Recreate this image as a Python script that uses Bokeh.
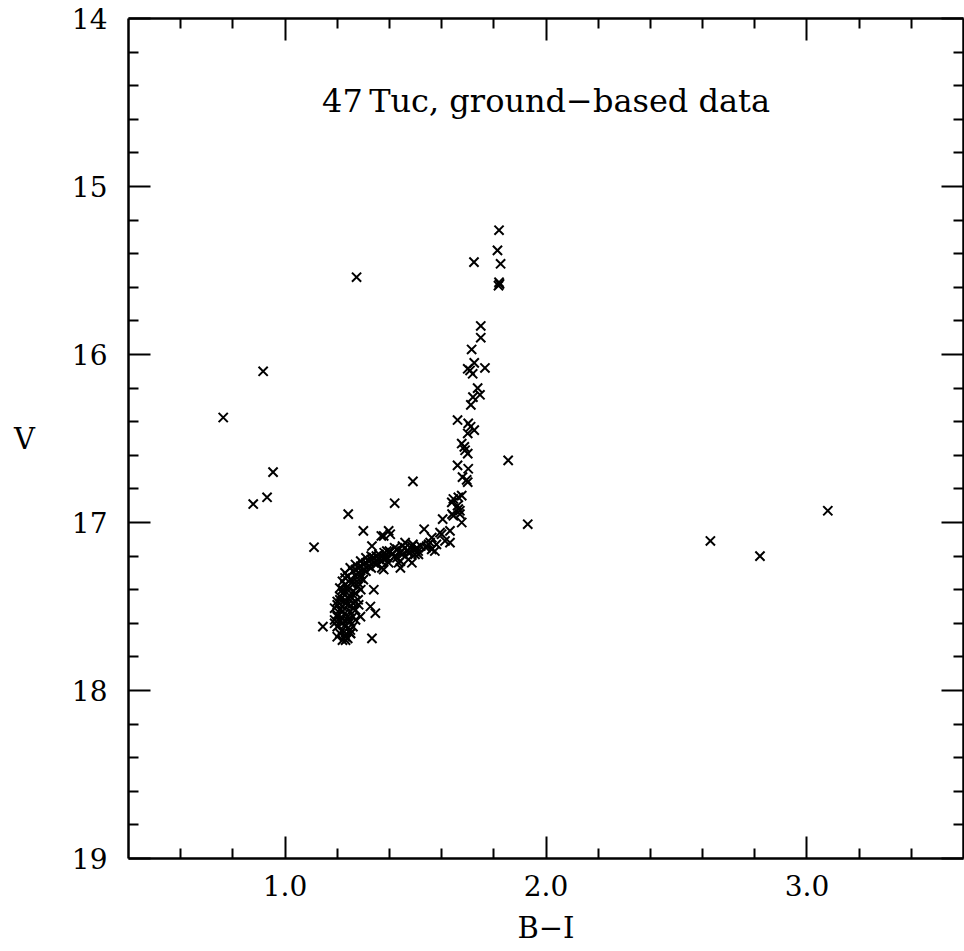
from bokeh.plotting import figure
from bokeh.models import Range1d, LinearAxis, FixedTicker, Label, ColumnDataSource
from bokeh.embed import file_html
from bokeh.resources import INLINE

# Colour-magnitude diagram of 47 Tuc (B-I vs V), ground-based photometry

# red giant branch and its base
rgb_bi = [1.82, 1.814, 1.724, 1.826, 1.82, 1.822, 1.818,
          1.75, 1.75, 1.715, 1.725, 1.70, 1.709, 1.719, 1.766,
          1.738, 1.747, 1.72, 1.712,
          1.661, 1.702, 1.711, 1.725, 1.70,
          1.677, 1.687, 1.69, 1.70,
          1.855, 1.661, 1.702, 1.68, 1.696, 1.70,
          1.677, 1.664, 1.645, 1.639, 1.661, 1.664, 1.67, 1.64, 1.67, 1.645,
          1.604, 1.677, 1.93, 1.632, 1.594, 1.60, 1.562, 1.613, 1.632, 1.556,
          1.58, 1.543, 1.562, 1.574]
rgb_v = [15.26, 15.38, 15.45, 15.46, 15.57, 15.58, 15.59,
         15.83, 15.90, 15.97, 16.05, 16.085, 16.095, 16.115, 16.08,
         16.20, 16.24, 16.254, 16.30,
         16.39, 16.41, 16.43, 16.45, 16.47,
         16.53, 16.55, 16.57, 16.59,
         16.63, 16.66, 16.68, 16.73, 16.746, 16.76,
         16.84, 16.85, 16.86, 16.88, 16.90, 16.92, 16.93, 16.95, 16.95, 16.96,
         16.98, 17.00, 17.01, 17.05, 17.06, 17.07, 17.09, 17.11, 17.12, 17.12,
         17.13, 17.14, 17.16, 17.17]

# subgiant branch
sgb_bi = [1.42, 1.49, 1.533, 1.397, 1.378, 1.403, 1.30, 1.369, 1.333,
          1.46, 1.486, 1.505, 1.448, 1.473, 1.498, 1.442,
          1.359, 1.384, 1.41, 1.429, 1.479, 1.511, 1.473, 1.435, 1.397,
          1.378, 1.486, 1.371, 1.378, 1.442]
sgb_v = [16.885, 16.755, 17.04, 17.05, 17.08, 17.07, 17.05, 17.08, 17.14,
         17.12, 17.14, 17.15, 17.17, 17.18, 17.19, 17.23,
         17.21, 17.20, 17.19, 17.21, 17.18, 17.19, 17.22, 17.24, 17.24,
         17.22, 17.24, 17.27, 17.28, 17.27]

# turnoff region and upper main sequence
to_bi = [1.22, 1.24, 1.23, 1.21, 1.25, 1.22, 1.24, 1.20, 1.23, 1.26,
         1.21, 1.19, 1.24, 1.22, 1.26, 1.20, 1.23, 1.25, 1.21, 1.27,
         1.19, 1.22, 1.24, 1.26, 1.20, 1.23, 1.28, 1.21, 1.25, 1.22,
         1.27, 1.24, 1.29, 1.21, 1.23, 1.26, 1.28, 1.22, 1.25, 1.30,
         1.24, 1.27, 1.23, 1.29, 1.26, 1.31, 1.25, 1.28, 1.33, 1.27,
         1.30, 1.35, 1.29, 1.32, 1.37, 1.31, 1.34, 1.39, 1.33, 1.36,
         1.42, 1.38, 1.44, 1.40, 1.47, 1.43, 1.50, 1.46, 1.52, 1.55,
         1.49,
         1.20, 1.23, 1.25, 1.19, 1.22, 1.25, 1.27, 1.20, 1.24, 1.22,
         1.26, 1.20, 1.23, 1.27, 1.21, 1.25, 1.23, 1.26, 1.22, 1.28,
         1.24, 1.26, 1.29, 1.23, 1.28, 1.30, 1.27, 1.32, 1.29, 1.34,
         1.31, 1.36, 1.33, 1.38, 1.41, 1.35, 1.45, 1.39, 1.48, 1.42,
         1.51, 1.54, 1.45,
         1.242, 1.111, 1.34, 1.145, 1.333, 1.346, 1.327, 1.289, 1.251,
         1.232, 1.282]
to_v = [17.70, 17.69, 17.67, 17.66, 17.66, 17.64, 17.63, 17.62, 17.61, 17.62,
        17.59, 17.58, 17.58, 17.57, 17.56, 17.55, 17.54, 17.53, 17.52, 17.52,
        17.51, 17.50, 17.49, 17.48, 17.47, 17.46, 17.46, 17.44, 17.44, 17.42,
        17.42, 17.40, 17.40, 17.39, 17.37, 17.37, 17.36, 17.35, 17.34, 17.34,
        17.32, 17.32, 17.30, 17.31, 17.29, 17.29, 17.27, 17.27, 17.27, 17.25,
        17.25, 17.25, 17.23, 17.23, 17.23, 17.21, 17.21, 17.21, 17.20, 17.19,
        17.20, 17.18, 17.18, 17.17, 17.17, 17.16, 17.16, 17.15, 17.14, 17.13,
        17.13,
        17.68, 17.68, 17.64, 17.60, 17.60, 17.59, 17.58, 17.56, 17.56, 17.53,
        17.51, 17.49, 17.48, 17.47, 17.46, 17.46, 17.43, 17.41, 17.40, 17.38,
        17.38, 17.35, 17.33, 17.33, 17.30, 17.28, 17.28, 17.26, 17.26, 17.24,
        17.24, 17.22, 17.22, 17.21, 17.19, 17.20, 17.19, 17.17, 17.15, 17.15,
        17.17, 17.15, 17.14,
        16.95, 17.147, 17.40, 17.62, 17.69, 17.54, 17.50, 17.56, 17.66,
        17.70, 17.49]

# field stars / outliers
out_bi = [0.763, 0.916, 0.954, 0.931, 0.878, 1.274, 2.63, 2.82, 3.08]
out_v = [16.375, 16.10, 16.70, 16.85, 16.89, 15.54, 17.11, 17.20, 16.93]

x_major = [1.0, 2.0, 3.0]
x_minor = [0.6, 0.8, 1.2, 1.4, 1.6, 1.8, 2.2, 2.4, 2.6, 2.8, 3.2, 3.4]
y_major = [14, 15, 16, 17, 18, 19]
y_minor = [14.2, 14.4, 14.6, 14.8, 15.2, 15.4, 15.6, 15.8, 16.2, 16.4, 16.6,
           16.8, 17.2, 17.4, 17.6, 17.8, 18.2, 18.4, 18.6, 18.8]

FONT = "DejaVu Serif"

bi = rgb_bi + sgb_bi + to_bi + out_bi
v = rgb_v + sgb_v + to_v + out_v
src = ColumnDataSource(data=dict(bi=bi, v=v))

p = figure(width=964, height=951, output_backend="svg", toolbar_location=None,
           x_range=Range1d(0.4, 3.6), y_range=Range1d(19, 14),
           x_axis_location=None, y_axis_location=None,
           min_border_left=128, min_border_right=1,
           min_border_top=18, min_border_bottom=93)
p.grid.visible = False
p.outline_line_color = None
p.background_fill_color = "white"
p.border_fill_color = "white"


def style(ax, show_labels):
    ax.axis_line_width = 2.5
    ax.axis_line_color = "black"
    ax.major_tick_in = 22
    ax.major_tick_out = 0
    ax.minor_tick_in = 10
    ax.minor_tick_out = 0
    ax.major_tick_line_width = 2
    ax.minor_tick_line_width = 2
    ax.major_tick_line_color = "black"
    ax.minor_tick_line_color = "black"
    ax.major_label_text_font = FONT
    ax.major_label_text_color = "black"
    ax.axis_label_text_font = FONT
    ax.axis_label_text_font_style = "normal"
    ax.axis_label_text_color = "black"
    # mirror axes on top/right carry ticks only
    ax.major_label_text_font_size = "28px" if show_labels else "0px"


xt = FixedTicker(ticks=x_major, minor_ticks=x_minor)
yt = FixedTicker(ticks=y_major, minor_ticks=y_minor)

bottom = LinearAxis(ticker=xt, axis_label="B\u2212I")
bottom.major_label_overrides = {1.0: "1.0", 2.0: "2.0", 3.0: "3.0"}
style(bottom, True)
bottom.major_label_standoff = 16
bottom.axis_label_standoff = 12
bottom.axis_label_text_font_size = "29px"
p.add_layout(bottom, "below")

left = LinearAxis(ticker=yt, axis_label="V")
style(left, True)
left.major_label_standoff = 21
left.axis_label_standoff = 34
left.axis_label_orientation = "horizontal"
left.axis_label_text_font_size = "29px"
p.add_layout(left, "left")

top = LinearAxis(ticker=xt)
style(top, False)
p.add_layout(top, "above")

right = LinearAxis(ticker=yt)
style(right, False)
p.add_layout(right, "right")

p.scatter("bi", "v", source=src, marker="x", size=13, line_width=2,
          line_color="black")

title = Label(x=2.0, y=14.49, text="47\u2009Tuc, ground\u2212based data",
              text_font=FONT, text_font_size="32px", text_align="center",
              text_baseline="middle", text_color="black")
p.add_layout(title)

open("out.html", "w").write(file_html(p, INLINE))
